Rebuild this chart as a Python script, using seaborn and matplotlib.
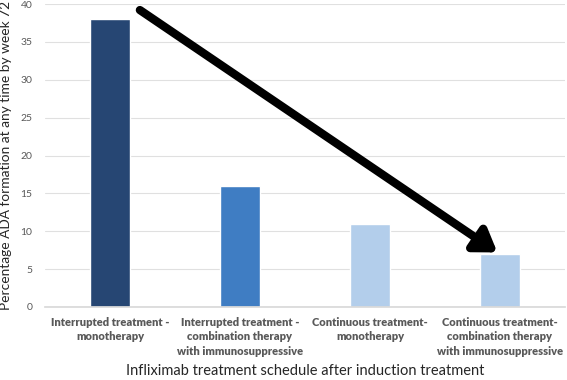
#!/usr/bin/env python3
"""Bar chart of ADA formation by infliximab treatment schedule."""

import matplotlib
matplotlib.use("Agg")
import matplotlib.pyplot as plt
import pandas as pd
import seaborn as sns

categories = [
    "Interrupted treatment -\nmonotherapy",
    "Interrupted treatment -\ncombination therapy\nwith immunosuppressive",
    "Continuous treatment-\nmonotherapy",
    "Continuous treatment-\ncombination therapy\nwith immunosuppressive",
]
ada_pct = [38, 16, 11, 7]
bar_colors = ["#264673", "#3F7DC3", "#B3CEEB", "#B3CEEB"]
y_ticks = [0, 5, 10, 15, 20, 25, 30, 35, 40]

# arrow annotation (category index, value)
arrow_start = (0.23, 39.2)
arrow_end = (2.98, 7.2)

sns.set_theme(style="white")
plt.rcParams["font.family"] = ["Lato", "DejaVu Sans"]

df = pd.DataFrame({"schedule": categories, "pct": ada_pct})

fig = plt.figure(figsize=(5.67, 3.8), dpi=100)
ax = fig.add_axes([45 / 567, 73 / 380, 520 / 567, 303 / 380])

sns.barplot(data=df, x="schedule", y="pct", hue="schedule", palette=bar_colors,
            legend=False, width=0.31, saturation=1, ax=ax, zorder=2)

ax.set_ylim(0, 40)
ax.set_yticks(y_ticks)
ax.yaxis.grid(True, color="#E0E0E0", lw=0.8, zorder=0)
ax.set_axisbelow(True)
for side in ["top", "right", "left"]:
    ax.spines[side].set_visible(False)
ax.spines["bottom"].set_color("#D9D9D9")
ax.tick_params(axis="y", length=0, labelsize=7.5, labelcolor="#595959", pad=9)
ax.tick_params(axis="x", length=0, labelsize=8, labelcolor="#595959", pad=7)
for lbl in ax.get_xticklabels():
    lbl.set_fontweight("heavy")
    lbl.set_linespacing(1.4)

ax.set_xlabel("Infliximab treatment schedule after induction treatment",
              fontsize=10.5, color="#262626", labelpad=5)
ax.set_ylabel("Percentage ADA formation at any time by week 72",
              fontsize=9.9, color="#262626", labelpad=6)

ax.annotate("", xy=arrow_end, xytext=arrow_start,
            arrowprops=dict(arrowstyle="-|>,head_length=0.9,head_width=0.6",
                            lw=6, color="black", mutation_scale=14,
                            shrinkA=0, shrinkB=0),
            zorder=5)

plt.savefig("out.png", dpi=100)
plt.close()
